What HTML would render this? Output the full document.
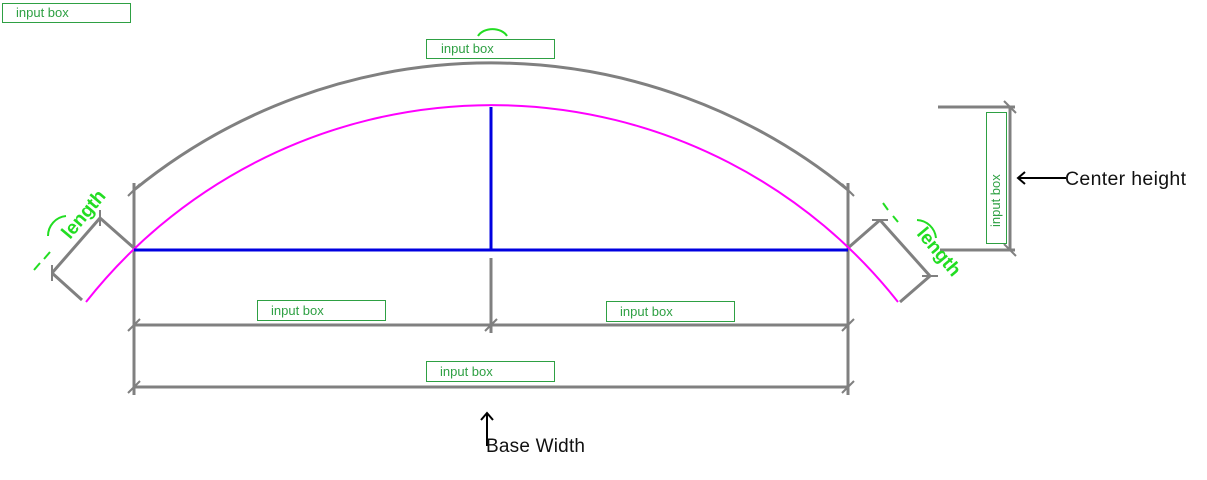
<!DOCTYPE html>
<html><head><meta charset="utf-8"><style>
body{margin:0;background:#fff;}
svg{display:block;font-family:"Liberation Sans","DejaVu Sans",sans-serif;}
</style></head><body>
<svg width="1207" height="480" viewBox="0 0 1207 480">
<g fill="none" stroke="#808080" stroke-width="3">
  <path d="M134 190 A565 565 0 0 1 848 190"/>
  <line x1="134" y1="183" x2="134" y2="395"/>
  <line x1="848" y1="183" x2="848" y2="395"/>
  <line x1="134" y1="325" x2="848" y2="325"/>
  <line x1="491" y1="258" x2="491" y2="333"/>
  <line x1="134" y1="387" x2="848" y2="387"/>
  <line x1="938" y1="107" x2="1015" y2="107"/>
  <line x1="940" y1="250" x2="1015" y2="250"/>
  <line x1="1010" y1="107" x2="1010" y2="250"/>
  <line x1="134" y1="248" x2="100" y2="218"/>
  <line x1="82" y1="300" x2="52" y2="273"/>
  <line x1="100" y1="218" x2="52" y2="273"/>
  <line x1="848" y1="248" x2="880" y2="220"/>
  <line x1="900" y1="302" x2="930" y2="276"/>
  <line x1="880" y1="220" x2="930" y2="276"/>
</g>
<g stroke="#808080" stroke-width="2">
  <line x1="128" y1="331" x2="140" y2="319"/><line x1="842" y1="331" x2="854" y2="319"/>
  <line x1="485" y1="331" x2="497" y2="319"/>
  <line x1="128" y1="393" x2="140" y2="381"/><line x1="842" y1="393" x2="854" y2="381"/>
  <line x1="128" y1="196" x2="140" y2="184"/><line x1="842" y1="184" x2="854" y2="196"/>
  <line x1="1004" y1="101" x2="1016" y2="113"/><line x1="1004" y1="244" x2="1016" y2="256"/>
  <line x1="100" y1="210" x2="100" y2="226"/><line x1="52" y1="265" x2="52" y2="281"/>
  <line x1="872" y1="220" x2="888" y2="220"/><line x1="922" y1="276" x2="938" y2="276"/>
</g>
<path d="M86 302 A517 517 0 0 1 898 302" fill="none" stroke="#ff00ff" stroke-width="2"/>
<g stroke="#0000e0" stroke-width="3">
  <line x1="134" y1="250" x2="848" y2="250"/>
  <line x1="491" y1="107" x2="491" y2="250"/>
</g>
<g fill="none" stroke="#22dd22" stroke-width="2">
  <path d="M478 36 A16 12 0 0 1 507 36"/>
  <path d="M48 236 A20 20 0 0 1 66 216"/>
  <line x1="34" y1="270" x2="40" y2="263"/><line x1="44" y1="259" x2="50" y2="252"/>
  <path d="M917 220 A20 20 0 0 1 936 238"/>
  <line x1="883" y1="203" x2="888" y2="210"/><line x1="893" y1="216" x2="898" y2="222"/>
</g>
<text x="0" y="0" transform="translate(70 240) rotate(-50)" font-size="19" font-weight="bold" fill="#22dd22">length</text>
<text x="0" y="0" transform="translate(916 234) rotate(50)" font-size="19" font-weight="bold" fill="#22dd22">length</text>
<g fill="#fff" stroke="#2ea043" stroke-width="1">
  <rect x="2.5" y="3.5" width="128" height="19"/>
  <rect x="426.5" y="39.5" width="128" height="19"/>
  <rect x="257.5" y="300.5" width="128" height="20"/>
  <rect x="606.5" y="301.5" width="128" height="20"/>
  <rect x="426.5" y="361.5" width="128" height="20"/>
  <rect x="986.5" y="112.5" width="20" height="131"/>
</g>
<g font-size="13" fill="#2ea043">
  <text x="16" y="17">input box</text>
  <text x="441" y="53">input box</text>
  <text x="271" y="315">input box</text>
  <text x="620" y="316">input box</text>
  <text x="440" y="376">input box</text>
  <text transform="translate(1000 227) rotate(-90)">input box</text>
</g>
<g stroke="#000" stroke-width="2" fill="none">
  <line x1="1018" y1="178" x2="1066" y2="178"/><polyline points="1025,172 1018,178 1025,184"/>
  <line x1="487" y1="413" x2="487" y2="446"/><polyline points="481,420 487,413 493,420"/>
</g>
<text x="1065" y="185" font-size="19.5" fill="#111" textLength="121">Center height</text>
<text x="486" y="452" font-size="19" fill="#111" textLength="99">Base Width</text>
</svg>
</body></html>
